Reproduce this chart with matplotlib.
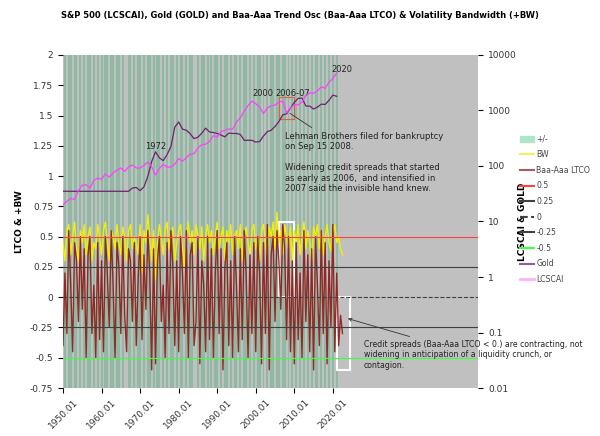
import numpy as np
import matplotlib.pyplot as plt
from matplotlib.lines import Line2D
from matplotlib.patches import Patch, Rectangle

# half-yearly Baa-Aaa trend oscillator, 1950.0 .. 2022.5
ltco = [-0.4, 0.2, -0.3, 0.55, 0.1, -0.45, 0.45, 0.3, -0.2, 0.5, -0.1, 0.4, -0.5, 0.35, 0.5, -0.3, 0.1, -0.5, 0.45, -0.35,
        0.3, -0.45, 0.5, 0.2, -0.25, 0.55, 0.1, -0.5, 0.45, 0.25, -0.3, 0.5, -0.15, -0.45, 0.4, 0.3, -0.2, 0.45, -0.4, 0.15,
        0.5, -0.35, 0.35, -0.1, 0.55, 0.2, -0.6, 0.4, -0.55, 0.3, 0.5, -0.2, 0.1, -0.5, 0.45, -0.3, 0.55, 0.25, -0.4, 0.3,
        -0.45, 0.5, 0.2, -0.3, 0.55, -0.5, 0.35, 0.45, -0.4, -0.2, 0.5, -0.55, 0.3, 0.1, -0.45, 0.5, -0.35, 0.4, -0.5, 0.2,
        0.55, -0.3, 0.4, -0.6, 0.25, 0.45, -0.4, 0.3, -0.5, 0.5, 0.1, -0.45, 0.4, -0.35, 0.55, 0.2, -0.5, 0.35, -0.3, 0.45,
        -0.45, 0.5, 0.2, -0.55, 0.45, -0.3, 0.6, -0.6, 0.35, 0.5, -0.2, 0.55, 0.3, -0.1, 0.6, 0.4, -0.35, 0.5, -0.45, 0.3,
        -0.55, 0.45, -0.35, 0.2, -0.5, 0.55, -0.2, 0.35, -0.45, 0.4, -0.6, 0.5, 0.1, -0.4, 0.55, -0.3, 0.45, -0.55, 0.3, -0.25,
        0.6, -0.45, 0.2, -0.4, -0.15, -0.3]
# volatility bandwidth, same dates
bw = [0.45, 0.3, 0.55, 0.6, 0.35, 0.5, 0.62, 0.4, 0.3, 0.55, 0.45, 0.6, 0.35, 0.5, 0.58, 0.3, 0.45, 0.4, 0.6, 0.5,
      0.35, 0.55, 0.62, 0.45, 0.3, 0.55, 0.5, 0.4, 0.6, 0.45, 0.35, 0.58, 0.5, 0.3, 0.55, 0.6, 0.4, 0.5, 0.45, 0.35,
      0.6, 0.2, 0.55, 0.45, 0.68, 0.5, 0.3, 0.55, 0.15, 0.45, 0.6, 0.5, 0.35, 0.55, 0.62, 0.4, 0.5, 0.58, 0.3, 0.45,
      0.55, 0.6, 0.4, 0.25, 0.5, 0.62, 0.45, 0.55, 0.35, 0.6, 0.5, 0.4, 0.58, 0.3, 0.5, 0.6, 0.45, 0.55, 0.35, 0.5,
      0.62, 0.4, 0.5, 0.58, 0.3, 0.55, 0.45, 0.6, 0.35, 0.5, 0.55, 0.4, 0.6, 0.3, 0.5, 0.58, 0.45, 0.35, 0.55, 0.6,
      0.4, 0.5, 0.3, 0.55, 0.6, 0.45, 0.35, 0.58, 0.5, 0.62, 0.4, 0.7, 0.45, 0.55, 0.35, 0.6, 0.5, 0.4, 0.58, 0.3,
      0.55, 0.45, 0.6, 0.35, 0.5, 0.62, 0.4, 0.55, 0.45, 0.3, 0.58, 0.5, 0.6, 0.4, 0.55, 0.35, 0.5, 0.6, 0.45, 0.38,
      0.55, 0.6, 0.45, 0.5, 0.4, 0.35]
half_years = 1950 + 0.5 * np.arange(len(ltco))

years = np.arange(1950, 2022)
gold = [35, 35, 35, 35, 35, 35, 35, 35, 35, 35, 35, 35, 35, 35, 35, 35, 35, 35, 40, 41,
        36, 42, 65, 120, 180, 140, 125, 160, 225, 500, 620, 460, 440, 380, 310, 330, 390, 480, 410, 400,
        385, 360, 335, 390, 385, 385, 370, 290, 290, 290, 270, 275, 345, 415, 440, 515, 630, 835, 870, 1100,
        1400, 1650, 1670, 1200, 1200, 1060, 1150, 1300, 1280, 1520, 1890, 1800]
lcscai = [20, 23, 26, 25, 36, 45, 46, 40, 55, 60, 58, 72, 63, 75, 84, 92, 80, 96, 104, 92,
          92, 102, 118, 97, 69, 90, 107, 95, 96, 108, 136, 122, 141, 165, 167, 211, 242, 247, 278, 353,
          330, 417, 436, 466, 459, 616, 741, 970, 1229, 1469, 1320, 1148, 880, 1112, 1212, 1248, 1418, 1468, 903, 1115,
          1258, 1258, 1426, 1848, 2059, 2044, 2239, 2674, 2507, 3231, 3756, 4766]

levels = [0.5, 0.25, 0, -0.25, -0.5]
level_styles = [('#ff4040', '-'), ('#404040', '-'), ('#404040', '--'), ('#404040', '-'), ('#40ff40', '-')]
x_ticks = [1950, 1960, 1970, 1980, 1990, 2000, 2010, 2020]
y_ticks = [2, 1.75, 1.5, 1.25, 1, 0.75, 0.5, 0.25, 0, -0.25, -0.5, -0.75]
log_ticks = [0.01, 0.1, 1, 10, 100, 1000, 10000]


def draw_oscillator(ax):
    ax.set_facecolor('#c0c0c0')
    for x, v in zip(half_years, ltco):
        if v > 0:
            ax.axvspan(x - 0.25, x + 0.25, color='#8fb9a2', lw=0)
    ax.plot(half_years, bw, color='#f0f000', lw=1)
    ax.plot(half_years, ltco, color='#8b1010', lw=1, alpha=0.85)
    for lev, (c, ls) in zip(levels, level_styles):
        ax.axhline(lev, color=c, ls=ls, lw=0.8)

    # boxes around 2006-07 and the latest reading
    ax.add_patch(Rectangle((2006, 0), 4, 0.62, fill=False, ec='white', lw=1.5))
    ax.add_patch(Rectangle((2021, -0.6), 3.5, 0.6, fill=False, ec='white', lw=1.5))
    ax.add_patch(Rectangle((2006, 1.47), 4, 0.18, fill=False, ec='#e06040', lw=0.8))

    ax.set_xlim(1950, 2057.7)
    ax.set_ylim(-0.75, 2)
    ax.set_xticks(x_ticks)
    ax.set_xticklabels([f'{x}.01' for x in x_ticks], rotation=45, fontsize=6.5, color='#333333')
    ax.set_yticks(y_ticks)
    ax.set_yticklabels([f'{y:g}' for y in y_ticks], fontsize=6.5, color='#333333')
    ax.set_ylabel('LTCO & +BW', fontsize=6.5, fontweight='bold')


def draw_prices(ax2):
    ax2.semilogy(years, gold, color='#702070', lw=0.9)
    ax2.semilogy(years, lcscai, color='#ff40ff', lw=0.9)
    ax2.set_ylim(0.01, 10000)
    ax2.set_yticks(log_ticks)
    ax2.set_yticklabels([f'{t:g}' for t in log_ticks], fontsize=6.5, color='#333333')
    ax2.minorticks_off()
    ax2.set_ylabel('LCSCAI & GOLD', fontsize=6.5, fontweight='bold', labelpad=1)


fig = plt.figure(figsize=(6, 4.36), dpi=100)
ax = fig.add_axes([0.105, 0.11, 0.692, 0.764])
draw_oscillator(ax)
ax2 = ax.twinx()
draw_prices(ax2)
for s in ax.spines.values():
    s.set_visible(False)
for s in ax2.spines.values():
    s.set_visible(False)

txt = dict(fontsize=6, color='#222222')
ax.text(1971.3, 1.22, '1972', **txt)
ax.text(1999, 1.66, '2000', **txt)
ax.text(2005, 1.66, '2006-07', **txt)
ax.text(2019.5, 1.86, '2020', **txt)
ax.annotate('Lehman Brothers filed for bankruptcy\non Sep 15 2008.\n\nWidening credit spreads that started\n'
            'as early as 2006,  and intensified in\n2007 said the invisible hand knew.',
            xy=(2008.3, 1.53), xytext=(2007.7, 0.86), va='bottom',
            arrowprops=dict(arrowstyle='-', color='#333333', lw=0.6), **txt)
ax.annotate('Credit spreads (Baa-Aaa LTCO < 0.) are contracting, not\nwidening in anticipation of a liquidity crunch, or\ncontagion.',
            xy=(2023.2, -0.17), xytext=(2028, -0.6), va='bottom', fontsize=5.6, color='#222222',
            arrowprops=dict(arrowstyle='->', color='#333333', lw=0.6))

handles = [Patch(color='#b0e4c8', label='+/-'), Line2D([], [], color='#f0f060', label='BW'),
           Line2D([], [], color='#a06060', label='Baa-Aaa LTCO')]
for lev, (c, ls) in zip(levels, level_styles):
    handles.append(Line2D([], [], color=c, ls=ls, label=f'{lev:g}'))
handles += [Line2D([], [], color='#906090', label='Gold'), Line2D([], [], color='#ffb0ff', lw=2, label='LCSCAI')]
fig.legend(handles=handles, loc='center left', bbox_to_anchor=(0.855, 0.52), frameon=False,
           fontsize=5.6, handlelength=1.8, handletextpad=0.3, labelspacing=0.85, labelcolor='#444444')

fig.suptitle('S&P 500 (LCSCAI), Gold (GOLD) and Baa-Aaa Trend Osc (Baa-Aaa LTCO) & Volatility Bandwidth (+BW)',
             x=0.5, y=0.975, fontsize=6, fontweight='bold')
fig.savefig('out.png')
